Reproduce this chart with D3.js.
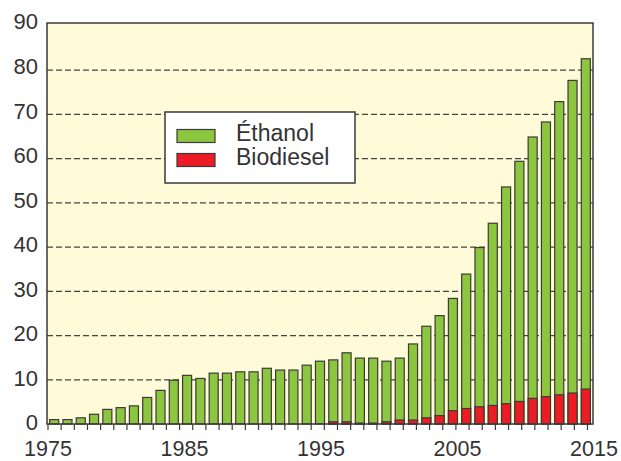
<!DOCTYPE html>
<html lang="fr">
  <head>
    <meta charset="UTF-8" />
    <title>Production d'éthanol et de biodiesel</title>
    <style>
      body {
        margin: 0;
        background: #fff;
        font-family: "Liberation Sans", Arial, sans-serif;
      }
      svg {
        display: block;
      }
      .tick-label {
        fill: #333;
        font-size: 22px;
      }
      .x-label {
        font-size: 21.5px;
      }
      .legend-label {
        fill: #333;
        font-size: 23px;
      }
    </style>
  </head>
  <body>
    <svg id="chart"></svg>

    <script src="https://d3js.org/d3.v7.min.js"></script>
    <script>
      const width = 621;
      const height = 461;

      // années 1975 à 2015
      const years = d3.range(1975, 2016);
      const ethanol = [
        1.0, 1.0, 1.4, 2.2, 3.3, 3.7, 4.1, 6.0, 7.6, 9.9,
        11.0, 10.3, 11.5, 11.5, 11.8, 11.8, 12.6, 12.2, 12.2, 13.3,
        14.2, 14.0, 15.6, 14.7, 14.7, 13.7, 14.0, 17.2, 20.7, 22.6,
        25.4, 30.4, 36.0, 41.2, 49.0, 54.3, 59.1, 62.1, 66.3, 70.7,
        74.7
      ];
      const biodiesel = [
        0, 0, 0, 0, 0, 0, 0, 0, 0, 0,
        0, 0, 0, 0, 0, 0, 0, 0, 0, 0,
        0, 0.5, 0.5, 0.2, 0.2, 0.5, 0.9, 0.9, 1.4, 1.9,
        3.0, 3.5, 3.9, 4.2, 4.6, 5.1, 5.8, 6.2, 6.6, 7.0,
        7.9
      ];
      const yTicks = [0, 10, 20, 30, 40, 50, 60, 70, 80, 90];
      const xTicks = [1975, 1985, 1995, 2005, 2015];
      const seriesNames = ["Éthanol", "Biodiesel"];

      const colors = { "Éthanol": "#8cc63f", "Biodiesel": "#ed1c24" };
      const ink = "#3a3a3a";

      const plotLeft = 47;
      const plotRight = 593;
      const plotTop = 23;
      const plotBottom = 424;

      const svg = d3
        .select("#chart")
        .attr("width", width)
        .attr("height", height)
        .attr("viewBox", `0 0 ${width} ${height}`);

      const x = d3
        .scaleBand()
        .domain(years)
        .range([plotLeft, plotRight])
        .paddingInner(0.32)
        .paddingOuter(0.2);

      const xYear = d3.scaleLinear().domain([1975, 2015]).range([plotLeft, plotRight]);

      const y = d3.scaleLinear().domain([0, 90]).range([plotBottom, 26]);
      const yLabel = d3.scaleLinear().domain([0, 90]).range([422.5, 21.5]);

      // fond du graphique
      svg
        .append("rect")
        .attr("x", plotLeft)
        .attr("y", plotTop)
        .attr("width", plotRight - plotLeft)
        .attr("height", plotBottom - plotTop)
        .attr("fill", "#fffad7");

      // lignes de grille pointillées
      svg
        .append("g")
        .selectAll("line")
        .data(yTicks.filter((d) => d > 0 && d < 90))
        .join("line")
        .attr("x1", plotLeft)
        .attr("x2", plotRight)
        .attr("y1", (d) => y(d))
        .attr("y2", (d) => y(d))
        .attr("stroke", "#444")
        .attr("stroke-width", 1.3)
        .attr("stroke-dasharray", "6,3");

      const data = years.map((year, i) => ({
        year,
        ethanol: ethanol[i],
        biodiesel: biodiesel[i],
      }));

      // barres empilées : biodiesel en bas, éthanol au-dessus
      const bars = svg.append("g").attr("stroke", ink).attr("stroke-width", 1.2);

      bars
        .selectAll("rect.eth")
        .data(data)
        .join("rect")
        .attr("class", "eth")
        .attr("x", (d) => x(d.year))
        .attr("width", x.bandwidth())
        .attr("y", (d) => y(d.ethanol + d.biodiesel))
        .attr("height", (d) => y(0) - y(d.ethanol + d.biodiesel))
        .attr("fill", colors["Éthanol"]);

      bars
        .selectAll("rect.bio")
        .data(data.filter((d) => d.biodiesel > 0))
        .join("rect")
        .attr("class", "bio")
        .attr("x", (d) => x(d.year))
        .attr("width", x.bandwidth())
        .attr("y", (d) => y(d.biodiesel))
        .attr("height", (d) => y(0) - y(d.biodiesel))
        .attr("fill", colors["Biodiesel"]);

      // cadre
      svg
        .append("rect")
        .attr("x", plotLeft)
        .attr("y", plotTop)
        .attr("width", plotRight - plotLeft)
        .attr("height", plotBottom - plotTop)
        .attr("fill", "none")
        .attr("stroke", ink)
        .attr("stroke-width", 1.5);

      // petites graduations de l'axe des x
      svg
        .append("g")
        .selectAll("line")
        .data(d3.range(years.length + 1))
        .join("line")
        .attr("x1", (i) => plotLeft + i * x.step() * 0.99 + 1)
        .attr("x2", (i) => plotLeft + i * x.step() * 0.99 + 1)
        .attr("y1", plotBottom)
        .attr("y2", plotBottom + 6)
        .attr("stroke", ink)
        .attr("stroke-width", 1.2);

      svg
        .append("g")
        .selectAll("text")
        .data(xTicks)
        .join("text")
        .attr("class", "tick-label x-label")
        .attr("x", (d) => xYear(d) + 1)
        .attr("y", 456)
        .attr("text-anchor", "middle")
        .text((d) => d);

      svg
        .append("g")
        .selectAll("text")
        .data(yTicks)
        .join("text")
        .attr("class", "tick-label")
        .attr("x", 38)
        .attr("y", (d) => yLabel(d))
        .attr("dy", "0.36em")
        .attr("text-anchor", "end")
        .text((d) => d);

      // légende
      const legend = svg.append("g");
      legend
        .append("rect")
        .attr("x", 165)
        .attr("y", 112)
        .attr("width", 190)
        .attr("height", 71)
        .attr("fill", "#fff")
        .attr("stroke", ink)
        .attr("stroke-width", 1.5);

      const items = legend
        .selectAll("g")
        .data(seriesNames)
        .join("g")
        .attr("transform", (d, i) => `translate(177, ${129.5 + i * 24})`);

      items
        .append("rect")
        .attr("width", 38)
        .attr("height", 13)
        .attr("fill", (d) => colors[d])
        .attr("stroke", ink)
        .attr("stroke-width", 1.2);

      items
        .append("text")
        .attr("class", "legend-label")
        .attr("x", 59)
        .attr("y", 11)
        .text((d) => d);
    </script>
  </body>
</html>
